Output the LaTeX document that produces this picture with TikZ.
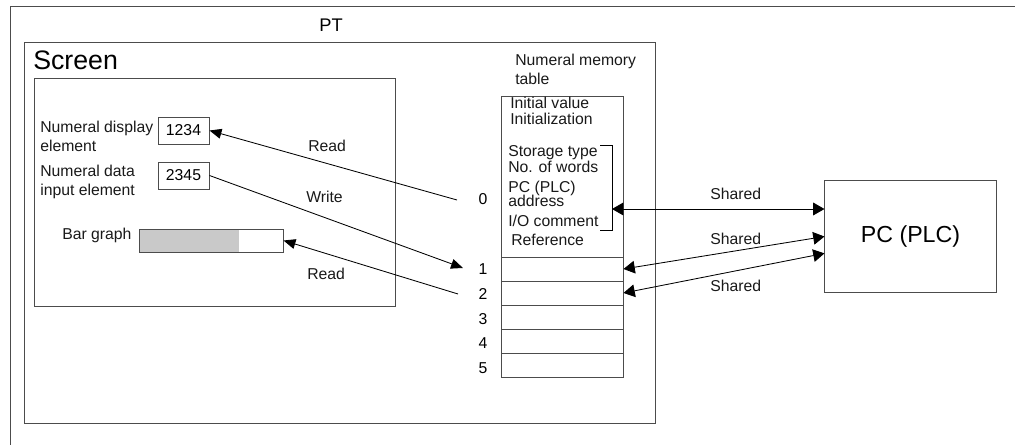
\documentclass[tikz,border=0pt]{standalone}
\usepackage{fontspec}
\setmainfont{Liberation Sans}
\usetikzlibrary{arrows.meta, positioning, calc}

\begin{document}
\begin{tikzpicture}[
    x=0.025cm, y=-0.025cm,
    frame/.style={draw=black!70, line width=0.7pt},
    txt/.style={font=\fontsize{11.2}{13}\selectfont, inner sep=0pt, anchor=base west, text=black!90},
    numbox/.style={frame, minimum width=1.275cm, minimum height=0.675cm,
                   inner sep=0pt, font=\fontsize{11.2}{13}\selectfont},
    cell/.style={frame, minimum width=3.025cm, minimum height=0.6cm, inner sep=0pt},
    index/.style={font=\fontsize{11.2}{13}\selectfont, inner sep=0pt, anchor=base},
    arrow/.style={-{Triangle[length=8.5pt, width=7pt]}, line width=0.6pt},
    shared/.style={{Triangle[length=8pt, width=9pt]}-{Triangle[length=8pt, width=9pt]}, line width=0.6pt},
]
    \useasboundingbox (0,0) rectangle (1015,445);

    % PT and screen frames
    \draw[frame] (1015,6) -- (10,6) -- (10,445);
    \node[font=\fontsize{13}{15}\selectfont, inner sep=0pt, anchor=base] (pt) at (331,32) {PT};
    \draw[frame] (24,42) rectangle (655,423);
    \node[font=\fontsize{19}{21}\selectfont, inner sep=0pt, anchor=base west] (screen) at (33,70) {Screen};
    \draw[frame] (34,78) rectangle (395,306);

    % screen elements
    \node[txt] (dispname)  at (40,133) {Numeral display};
    \node[txt] (dispname2) at (40,152) {element};
    \node[numbox] (disp) at (183.5,130.5) {1234};
    \node[txt] (inpname)  at (40,177) {Numeral data};
    \node[txt] (inpname2) at (40,196) {input element};
    \node[numbox] (inp) at (183.5,175.5) {2345};
    \node[txt] (barname) at (62,240) {Bar graph};
    \fill[black!21] (140,229) rectangle (239,252);
    \node[frame, minimum width=3.575cm, minimum height=0.575cm, inner sep=0pt] (bar) at (211.5,240.5) {};

    % numeral memory table
    \node[txt] (tabname)  at (515,66) {Numeral memory};
    \node[txt] (tabname2) at (515,85) {table};
    \node[cell, minimum height=4cm] (head) at (562.5,177) {};
    \node[cell] (row1) at (562.5,269) {};
    \node[cell] (row2) at (562.5,293) {};
    \node[cell] (row3) at (562.5,317) {};
    \node[cell] (row4) at (562.5,341) {};
    \node[cell] (row5) at (562.5,365) {};

    \node[txt] (h1) at (510,108.5) {Initial value};
    \node[txt] (h2) at (510,124.5) {Initialization};
    \node[txt] (h3) at (508,157) {Storage type};
    \node[txt] (h4) at (508,173) {No. of words};
    \node[txt] (h5) at (508,193) {PC (PLC)};
    \node[txt] (h6) at (508,207) {address};
    \node[txt] (h7) at (508,227) {I/O comment};
    \node[txt] (h8) at (511,246) {Reference};
    \draw[line width=0.6pt] (600,145) -- (612,145) -- (612,230) -- (600,230);
    \coordinate (brk) at (612,209);

    \node[index] (i0) at (483,205) {0};
    \node[index] (i1) at (483,275) {1};
    \node[index] (i2) at (483,300) {2};
    \node[index] (i3) at (483,325) {3};
    \node[index] (i4) at (483,349) {4};
    \node[index] (i5) at (483,374) {5};

    % read / write
    \coordinate (rd0) at (457,200);
    \coordinate (wr1) at (463,268);
    \coordinate (rd2) at (458,294);
    \draw[arrow] (rd0) -- (disp.east);
    \draw[arrow] (inp.east) -- (wr1);
    \draw[arrow] (rd2) -- (bar.east);
    \node[txt] (read1) at (308,152) {Read};
    \node[txt] (write) at (306,203) {Write};
    \node[txt] (read2) at (307,280) {Read};

    % PC (PLC)
    \node[frame, minimum width=4.275cm, minimum height=2.775cm, font=\fontsize{16.5}{18}\selectfont]
        (plc) at (910.5,236.5) {PC (PLC)};
    \draw[shared] (brk) -- (brk -| plc.west);
    \draw[shared] (row1.east) -- (plc.west);
    \draw[shared] (row2.east) -- ([yshift=-12pt]plc.west);
    \node[txt] (sh1) at (710,200) {Shared};
    \node[txt] (sh2) at (710,245) {Shared};
    \node[txt] (sh3) at (710,292) {Shared};
\end{tikzpicture}
\end{document}
